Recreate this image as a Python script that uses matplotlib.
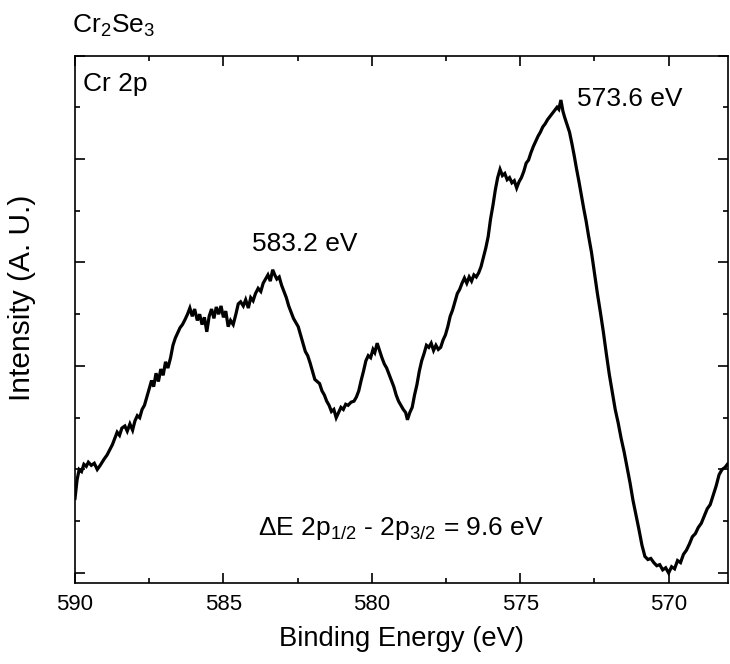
import matplotlib
matplotlib.use("Agg")
import matplotlib.pyplot as plt
from matplotlib.ticker import MultipleLocator

plt.rcParams['font.family'] = ['Liberation Sans', 'DejaVu Sans']
plt.rcParams['mathtext.fontset'] = 'custom'
plt.rcParams['mathtext.rm'] = 'Liberation Sans'
plt.rcParams['mathtext.it'] = 'Liberation Sans'

energy = [
    590.00, 589.93, 589.86, 589.78, 589.70, 589.62, 589.55, 589.45, 589.35, 589.25,
    589.15, 589.02, 588.92, 588.83, 588.74, 588.66, 588.58, 588.50, 588.42, 588.32,
    588.24, 588.15, 588.06, 587.98, 587.90, 587.82, 587.74, 587.66, 587.58, 587.50,
    587.42, 587.35, 587.27, 587.19, 587.11, 587.03, 586.95, 586.87, 586.78, 586.70,
    586.62, 586.54, 586.46, 586.38, 586.29, 586.21, 586.13, 586.05, 585.97, 585.88,
    585.80, 585.72, 585.64, 585.56, 585.48, 585.40, 585.32, 585.24, 585.16, 585.08,
    585.00, 584.92, 584.84, 584.76, 584.67, 584.58, 584.50, 584.42, 584.33, 584.25,
    584.16, 584.08, 584.00, 583.92, 583.83, 583.74, 583.66, 583.58, 583.50, 583.42,
    583.34, 583.27, 583.20, 583.12, 583.04, 582.96, 582.88, 582.80, 582.72, 582.64,
    582.56, 582.48, 582.40, 582.32, 582.24, 582.16, 582.08, 582.00, 581.92, 581.84,
    581.76, 581.68, 581.60, 581.52, 581.44, 581.36, 581.28, 581.20, 581.12, 581.04,
    580.96, 580.88, 580.80, 580.70, 580.60, 580.52, 580.44, 580.36, 580.28, 580.20,
    580.12, 580.04, 579.96, 579.90, 579.82, 579.74, 579.66, 579.58, 579.50, 579.42,
    579.34, 579.26, 579.18, 579.10, 579.02, 578.94, 578.86, 578.80, 578.72, 578.64,
    578.56, 578.48, 578.40, 578.32, 578.24, 578.16, 578.08, 578.00, 577.92, 577.84,
    577.76, 577.68, 577.60, 577.52, 577.44, 577.36, 577.28, 577.20, 577.12, 577.04,
    576.96, 576.88, 576.80, 576.72, 576.64, 576.56, 576.48, 576.40, 576.32, 576.24,
    576.16, 576.08, 576.00, 575.92, 575.84, 575.76, 575.68, 575.60, 575.52, 575.44,
    575.36, 575.28, 575.20, 575.12, 575.04, 574.96, 574.88, 574.80, 574.72, 574.64,
    574.56, 574.48, 574.40, 574.32, 574.24, 574.16, 574.08, 574.00, 573.92, 573.84,
    573.76, 573.70, 573.63, 573.56, 573.50, 573.42, 573.34, 573.26, 573.18, 573.10,
    573.02, 572.94, 572.86, 572.78, 572.70, 572.60, 572.50, 572.40, 572.30, 572.20,
    572.10, 572.00, 571.90, 571.80, 571.70, 571.60, 571.50, 571.40, 571.30, 571.20,
    571.10, 571.00, 570.90, 570.80, 570.70, 570.60, 570.50, 570.40, 570.30, 570.20,
    570.10, 570.00, 569.90, 569.80, 569.70, 569.60, 569.50, 569.40, 569.30, 569.20,
    569.10, 569.00, 568.90, 568.80, 568.70, 568.60, 568.50, 568.40, 568.30, 568.20,
    568.10, 568.02,
]

intensity = [
    0.72, 0.90, 1.00, 0.98, 1.05, 1.03, 1.07, 1.04, 1.06, 1.00,
    1.04, 1.10, 1.14, 1.19, 1.24, 1.30, 1.36, 1.33, 1.40, 1.42,
    1.37, 1.44, 1.38, 1.47, 1.52, 1.50, 1.58, 1.62, 1.70, 1.78,
    1.86, 1.80, 1.93, 1.85, 1.97, 1.91, 2.04, 1.98, 2.08, 2.20,
    2.27, 2.32, 2.37, 2.40, 2.45, 2.50, 2.56, 2.48, 2.55, 2.44,
    2.50, 2.40, 2.47, 2.33, 2.48, 2.55, 2.46, 2.57, 2.50, 2.58,
    2.47, 2.53, 2.38, 2.44, 2.40, 2.50, 2.60, 2.62, 2.58, 2.64,
    2.56, 2.66, 2.63, 2.70, 2.75, 2.72, 2.80, 2.84, 2.88, 2.82,
    2.93, 2.88, 2.84, 2.86, 2.78, 2.72, 2.66, 2.58, 2.52, 2.46,
    2.42, 2.38, 2.30, 2.22, 2.14, 2.10, 2.03, 1.95, 1.87, 1.85,
    1.83, 1.76, 1.72, 1.66, 1.62, 1.56, 1.58, 1.50, 1.55, 1.60,
    1.58, 1.63, 1.62, 1.65, 1.66, 1.70, 1.76, 1.86, 1.95, 2.05,
    2.10, 2.08, 2.16, 2.13, 2.22, 2.15, 2.08, 2.02, 1.98, 1.92,
    1.86, 1.80, 1.72, 1.66, 1.62, 1.58, 1.55, 1.48, 1.55, 1.60,
    1.72, 1.82, 1.95, 2.05, 2.12, 2.20, 2.18, 2.22, 2.15, 2.20,
    2.16, 2.18, 2.25, 2.30, 2.38, 2.48, 2.54, 2.62, 2.70, 2.74,
    2.80, 2.85, 2.80, 2.86, 2.82, 2.88, 2.86, 2.90, 2.96, 3.05,
    3.14, 3.25, 3.42, 3.55, 3.70, 3.82, 3.90, 3.84, 3.86, 3.80,
    3.82, 3.77, 3.79, 3.72, 3.78, 3.82, 3.88, 3.96, 3.99, 4.06,
    4.12, 4.17, 4.22, 4.26, 4.31, 4.34, 4.38, 4.41, 4.44, 4.47,
    4.50, 4.48, 4.57, 4.46, 4.40, 4.33, 4.26, 4.15, 4.03, 3.90,
    3.78, 3.65, 3.52, 3.40, 3.26, 3.10, 2.90, 2.70, 2.52, 2.33,
    2.12, 1.92, 1.75, 1.58, 1.45, 1.30, 1.17, 1.02, 0.87, 0.70,
    0.56, 0.42, 0.27, 0.16, 0.13, 0.14, 0.10, 0.07, 0.08, 0.03,
    0.05, 0.00, 0.06, 0.04, 0.12, 0.10, 0.18, 0.22, 0.28, 0.35,
    0.38, 0.44, 0.48, 0.55, 0.62, 0.66, 0.75, 0.84, 0.95, 1.00,
    1.02, 1.05,
]

x_ticks = [590, 585, 580, 575, 570]
x_tick_labels = ["590", "585", "580", "575", "570"]

W, H = 730, 664
fig = plt.figure(figsize=(W / 100, H / 100), dpi=100)
ax = fig.add_axes([75 / W, (H - 583) / H, (728 - 75) / W, (583 - 55.5) / H])

ax.plot(energy, intensity, color='black', lw=2.3, solid_joinstyle='miter')

ax.set_xlim(590, 568.0)
ax.set_ylim(-0.097, 5.0)
ax.set_xticks(x_ticks)
ax.set_xticklabels(x_tick_labels)
ax.xaxis.set_minor_locator(MultipleLocator(2.5))
ax.yaxis.set_major_locator(MultipleLocator(1))
ax.yaxis.set_minor_locator(MultipleLocator(0.5))
ax.tick_params(which='both', direction='in', top=True, right=True, width=1.2,
               labelleft=False, labelsize=16, pad=8)
ax.tick_params(which='major', length=7)
ax.tick_params(which='minor', length=3.5)
for s in ax.spines.values():
    s.set_linewidth(1.2)

ax.set_xlabel('Binding Energy (eV)', fontsize=19.7, labelpad=8)
ax.set_ylabel('Intensity (A. U.)', fontsize=21.5)
ax.yaxis.set_label_coords((36 - 75) / 653, (583 - 298) / 527.5)

def fx(px):
    return px / W

def fy(py):
    return 1 - py / H

fig.text(fx(72), fy(33), r'Cr$_2$Se$_3$', fontsize=19, va='baseline', ha='left')
fig.text(fx(83), fy(91), 'Cr 2p', fontsize=19, va='baseline', ha='left')
fig.text(fx(252), fy(251), '583.2 eV', fontsize=19, va='baseline', ha='left')
fig.text(fx(577), fy(106), '573.6 eV', fontsize=19, va='baseline', ha='left')
fig.text(fx(258), fy(535), r'ΔE 2p$_{1/2}$ - 2p$_{3/2}$ = 9.6 eV', fontsize=19,
         va='baseline', ha='left')

fig.savefig('out.png', dpi=100)
